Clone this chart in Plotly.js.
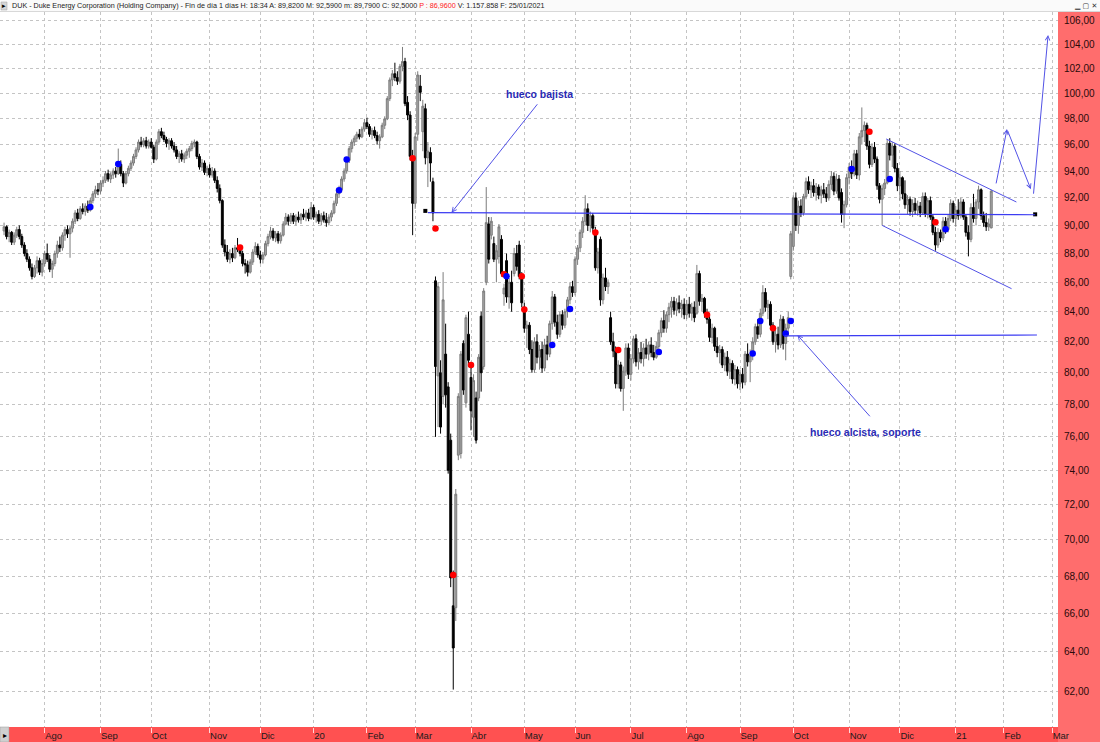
<!DOCTYPE html>
<html><head><meta charset="utf-8">
<script src="https://cdn.plot.ly/plotly-3.0.1.min.js"></script>
<style>html,body{margin:0;padding:0;background:#fff;} #chart{width:1100px;height:742px;}</style>
</head><body><div id="chart"></div>
<script>
// ===== DATA (DUK daily candles, Jul 2019 - 25 Jan 2021; x = trading-day index) =====
const open = [
89.6,89.9,89.2,89.5,88.8,89.3,89.7,89.2,88.6,88.0,87.6,87.0,86.4,87.0,87.5,86.7,
87.3,88.0,87.6,86.9,87.3,88.0,88.6,88.4,89.3,89.7,89.4,89.8,90.3,90.9,90.5,91.2,91.0,91.4,91.1,91.8,92.3,92.6,
92.5,93.1,93.3,93.8,93.4,93.7,94.0,93.8,94.5,93.8,93.1,93.8,94.2,94.6,95.1,95.6,96.2,96.0,96.3,95.9,
96.2,95.8,94.9,96.2,97.0,96.7,96.4,96.1,96.3,95.9,95.6,95.1,95.3,94.9,95.2,95.5,95.7,96.1,96.2,95.1,94.3,94.6,93.9,
94.2,93.7,94.0,93.3,92.7,91.8,88.6,88.1,87.6,88.0,87.7,88.4,88.3,88.0,87.3,87.2,86.7,87.4,88.1,88.5,
87.9,87.6,87.9,88.7,89.2,89.6,89.1,89.4,88.9,89.3,90.1,90.6,90.3,90.7,90.3,90.6,90.4,90.8,90.6,90.9,90.5,
91.3,90.6,90.8,90.3,90.7,90.4,90.2,90.6,90.9,91.6,92.3,92.6,93.4,94.0,94.8,95.7,96.2,96.5,96.8,96.6,97.2,
97.7,97.4,96.8,97.1,96.7,96.3,96.6,97.5,98.0,99.6,101.1,101.6,101.3,101.0,102.2,102.6,99.3,98.3,95.0,
91.6,96.8,100.6,97.0,98.8,95.0,95.4,93.2,86.1,79.8,80.0,78.5,81.2,79.1,75.8,66.4,66.3,74.9,75.0,81.9,78.1,82.5,
79.7,77.2,78.4,78.4,83.7,80.4,86.0,90.1,89.3,88.7,87.6,87.8,89.0,85.2,87.5,85.0,86.0,86.6,88.0,88.6,86.4,
84.3,82.9,83.1,81.5,80.2,82.0,81.0,81.5,80.3,81.8,81.2,83.2,85.0,83.3,82.5,83.8,83.1,84.0,84.8,85.7,
85.3,87.6,88.4,89.5,90.3,91.2,90.0,90.7,89.6,87.0,89.0,84.8,86.3,85.7,83.6,82.0,81.4,79.3,80.5,79.0,80.1,81.6,
79.9,80.9,82.2,80.7,81.3,80.9,81.6,81.2,81.8,81.3,81.0,81.7,82.6,83.4,82.9,83.8,84.3,84.7,84.1,84.6,84.2,84.5,
83.8,84.5,83.9,84.3,83.9,86.6,84.7,84.9,83.9,83.5,82.3,82.9,81.7,81.3,81.5,80.5,81.0,80.1,80.6,79.6,80.2,
79.3,79.9,79.4,81.2,80.7,81.1,82.0,83.0,82.5,83.9,85.3,84.3,84.5,83.1,82.0,82.5,81.8,83.5,81.9,82.9,86.4,
88.5,92.0,90.0,91.4,90.9,92.1,93.2,92.6,92.9,92.4,92.8,92.2,92.6,92.3,92.0,93.0,93.6,92.5,93.4,92.4,90.8,91.5,
93.5,94.3,93.8,95.3,93.7,96.6,97.1,97.5,95.9,94.5,95.8,94.9,92.9,91.9,92.7,93.1,96.1,95.2,95.9,94.2,
92.9,93.5,92.3,91.5,91.9,91.0,91.6,91.1,91.4,90.9,92.1,90.8,91.8,90.6,89.5,88.6,89.5,89.1,90.3,89.7,90.5,91.6,
90.5,91.1,90.7,91.7,90.6,89.5,89.0,91.3,90.5,91.7,92.6,90.7,90.2,89.9,89.82];
const high = [
90.2,90.0,89.7,89.6,89.5,89.9,90.0,89.4,88.8,88.3,87.8,87.3,87.2,87.8,87.7,87.6,
88.2,88.7,87.9,87.5,88.2,88.9,89.2,89.5,89.9,90.0,90.0,90.5,91.1,91.2,91.4,91.6,91.6,91.8,92.0,92.5,92.9,93.1,
93.3,93.6,94.0,94.1,93.9,94.2,94.3,95.7,94.8,94.0,94.0,94.4,94.8,95.3,95.8,96.4,96.6,96.5,96.6,96.4,
96.5,96.0,96.4,97.2,97.3,97.0,96.6,96.5,96.5,96.2,95.9,95.5,95.6,95.4,95.7,95.9,96.3,96.4,96.3,95.3,94.9,94.8,94.4,
94.5,94.3,94.2,93.6,93.0,91.9,89.0,88.6,88.3,88.4,88.6,89.1,88.6,88.2,87.6,87.5,87.6,88.3,88.8,88.7,
88.2,88.1,88.9,89.4,89.9,89.8,89.6,89.6,89.5,90.3,90.9,90.8,90.9,90.9,90.8,91.0,90.9,91.2,91.1,91.2,91.7,
91.5,91.0,91.1,90.9,91.0,90.9,90.8,91.1,91.8,92.5,92.9,93.6,94.2,95.0,95.9,96.4,96.7,97.0,97.2,97.4,98.0,
98.1,97.6,97.3,97.4,97.0,96.8,97.7,98.2,99.8,101.3,101.9,102.5,101.8,102.4,103.8,102.9,99.8,98.6,95.6,
96.9,101.8,101.5,99.5,99.2,96.2,95.8,93.5,86.4,86.0,80.8,86.7,83.2,79.4,76.2,68.3,72.9,78.7,81.4,82.1,83.8,84.0,
80.4,79.9,78.8,81.2,84.0,85.6,92.8,90.6,90.6,89.2,88.6,90.1,89.3,85.9,88.0,86.3,86.8,88.4,88.6,88.9,86.7,
84.6,83.4,83.3,82.1,82.3,82.5,81.8,82.0,82.2,82.4,83.4,85.4,85.2,83.8,84.0,84.1,84.2,85.0,86.0,86.1,
87.8,88.6,89.7,90.6,92.2,91.6,91.0,90.9,89.9,88.4,89.2,86.6,87.0,86.2,84.0,82.6,81.7,80.8,80.7,80.4,81.9,81.9,
81.2,82.4,82.5,81.6,82.0,81.9,82.2,82.0,82.3,81.8,82.0,82.8,83.6,84.1,84.0,84.6,85.0,85.0,84.9,85.1,84.8,84.9,
84.8,85.0,84.6,84.7,87.2,86.8,85.2,85.0,84.2,83.8,83.2,83.0,82.3,81.8,81.7,81.3,81.4,80.9,80.8,80.5,80.4,
80.2,80.3,81.4,81.9,81.5,82.3,83.2,83.5,84.2,85.8,85.6,84.8,84.7,83.3,82.8,83.0,83.8,83.7,83.2,84.0,89.6,
92.2,92.4,91.8,91.9,92.3,93.5,93.6,93.2,93.4,93.1,93.0,92.9,93.1,92.8,93.3,94.0,93.9,93.8,93.7,92.7,91.8,93.8,
94.6,94.8,95.6,95.6,96.9,98.9,97.8,97.7,96.3,96.1,96.2,95.1,93.1,93.0,93.4,96.4,96.5,96.2,96.1,94.6,
94.0,93.6,93.3,92.2,92.1,91.9,92.0,91.8,91.7,92.4,92.4,92.0,92.1,90.8,89.9,89.8,89.7,90.6,90.6,90.8,91.9,91.8,
91.4,91.9,92.0,91.9,90.8,90.0,91.6,92.3,91.9,92.9,92.7,91.0,90.9,90.5,92.59];
const low = [
89.3,89.0,88.8,88.6,88.6,89.1,89.0,88.4,87.8,87.4,86.8,86.2,86.3,86.6,86.5,86.4,
87.1,87.4,86.7,86.3,87.1,87.7,88.1,88.2,88.9,89.1,87.7,89.5,90.1,90.3,90.4,90.8,90.7,90.9,91.0,91.6,92.0,92.2,
92.3,92.8,93.1,93.2,93.1,93.4,93.5,93.7,93.6,92.8,93.0,93.6,94.0,94.4,94.9,95.4,95.8,95.8,95.7,95.7,
95.7,94.6,94.8,96.0,96.5,96.2,95.8,95.6,95.7,95.4,94.9,94.6,94.7,94.6,94.9,95.0,95.5,95.8,94.9,94.1,94.0,93.7,93.6,
93.5,93.5,93.1,92.4,91.6,88.4,87.8,87.4,87.3,87.4,87.6,88.1,87.8,87.1,86.6,86.4,86.6,87.2,87.9,87.7,
87.3,87.3,87.8,88.5,89.0,88.9,88.8,88.7,88.7,89.2,90.0,90.0,90.1,90.1,90.0,90.2,90.1,90.4,90.3,90.3,90.4,
90.4,90.2,90.1,90.0,90.2,89.9,90.0,90.3,90.8,91.4,92.0,92.4,93.2,93.8,94.6,95.4,95.9,96.2,96.4,96.5,97.0,
97.2,96.6,96.4,96.5,96.0,95.7,96.5,97.2,97.9,99.4,100.6,101.0,100.7,100.8,101.8,99.0,97.9,94.8,89.3,
91.2,96.3,99.4,95.5,94.5,92.8,93.2,90.3,76.0,76.6,76.2,78.0,77.8,73.8,67.4,62.1,65.6,74.6,74.7,78.6,77.8,80.4,
76.4,76.0,75.6,78.2,78.8,80.2,85.8,87.3,89.0,87.4,86.0,87.3,86.4,84.4,84.6,84.2,84.0,86.4,86.8,86.2,84.3,
82.6,81.6,81.2,80.0,80.0,80.6,80.2,80.0,80.1,80.8,81.0,82.8,83.0,82.2,82.3,82.8,82.9,83.6,84.5,85.0,
85.1,87.2,88.1,89.1,90.0,89.6,89.5,89.5,86.8,86.6,84.4,84.5,85.4,85.2,81.8,81.0,79.0,79.0,78.8,77.6,79.8,79.6,
79.5,80.6,80.4,80.2,80.6,80.4,80.9,80.8,81.0,80.8,80.9,81.5,82.3,82.6,82.6,83.3,83.6,83.8,83.7,83.9,83.6,83.5,
83.5,83.6,83.4,83.3,83.8,84.4,84.0,83.6,83.2,82.0,81.9,81.4,81.0,80.6,80.3,80.1,79.8,79.6,79.3,79.2,79.0,
78.9,79.0,79.2,80.4,79.4,80.8,81.8,82.2,82.3,83.7,84.0,83.5,82.8,81.8,81.3,81.5,81.6,81.5,80.8,82.4,86.2,
88.2,89.6,89.4,90.6,90.7,91.9,92.3,92.0,92.1,91.8,91.9,91.6,92.0,91.7,91.8,92.6,92.2,92.3,91.8,90.2,89.8,91.3,
93.0,93.4,93.6,93.4,93.3,96.0,96.2,95.6,94.2,94.3,94.6,92.6,91.6,90.0,92.2,93.0,94.8,94.3,93.9,92.5,
91.8,91.9,91.2,90.8,90.7,90.6,90.8,90.7,90.6,90.8,90.6,90.5,90.4,89.3,88.2,88.4,88.8,88.9,89.4,89.5,90.3,90.2,
89.9,90.4,90.5,90.4,89.2,87.8,88.8,90.2,90.0,91.2,90.4,89.9,89.6,89.6,89.79];
const close = [
89.9,89.2,89.5,88.8,89.3,89.7,89.2,88.6,88.0,87.6,87.0,86.4,87.0,87.5,86.7,87.3,
88.0,87.6,86.9,87.3,88.0,88.6,88.4,89.3,89.7,89.4,89.8,90.3,90.9,90.5,91.2,91.0,91.4,91.1,91.8,92.3,92.6,92.5,
93.1,93.3,93.8,93.4,93.7,94.0,93.8,94.5,93.8,93.1,93.8,94.2,94.6,95.1,95.6,96.2,96.0,96.3,95.9,96.2,
95.8,94.9,96.2,97.0,96.7,96.4,96.1,96.3,95.9,95.6,95.1,95.3,94.9,95.2,95.5,95.7,96.1,96.2,95.1,94.3,94.6,93.9,94.2,
93.7,94.0,93.3,92.7,91.8,88.6,88.1,87.6,88.0,87.7,88.4,88.3,88.0,87.3,87.2,86.7,87.4,88.1,88.5,87.9,
87.6,87.9,88.7,89.2,89.6,89.1,89.4,88.9,89.3,90.1,90.6,90.3,90.7,90.3,90.6,90.4,90.8,90.6,90.9,90.5,91.3,
90.6,90.8,90.3,90.7,90.4,90.2,90.6,90.9,91.6,92.3,92.6,93.4,94.0,94.8,95.7,96.2,96.5,96.8,96.6,97.2,97.7,
97.4,96.8,97.1,96.7,96.3,96.6,97.5,98.0,99.6,101.1,101.6,101.3,101.0,102.2,102.6,99.2,98.3,95.1,91.6,
96.6,101.5,100.1,99.0,95.0,95.5,94.6,90.9,80.4,85.7,76.6,84.8,78.6,74.0,67.9,64.2,72.6,78.5,81.2,78.9,83.6,80.8,
77.6,79.5,75.8,81.0,80.0,85.4,90.2,87.6,90.3,87.6,88.2,89.9,86.6,85.6,85.0,86.0,84.6,88.0,87.1,86.4,84.6,
82.9,83.1,81.5,80.2,82.0,81.0,81.5,80.3,81.8,81.2,83.2,85.0,83.3,82.5,83.8,83.1,84.0,84.8,85.7,85.3,
87.6,88.4,89.5,90.3,91.2,90.0,90.7,89.8,87.0,88.1,84.8,86.3,85.7,86.0,82.0,81.4,79.3,80.5,79.0,80.1,81.6,79.9,
80.9,82.2,80.7,81.3,80.9,81.6,81.2,81.8,81.3,81.0,81.7,82.6,83.4,82.9,83.8,84.3,84.7,84.1,84.6,84.2,84.5,83.8,
84.5,83.9,84.3,83.6,86.6,84.7,84.9,83.9,83.5,82.3,82.9,81.7,81.3,81.5,80.5,81.0,80.1,80.6,79.6,80.2,79.3,
79.9,79.4,81.2,80.7,81.1,82.0,83.0,82.5,83.9,85.3,84.3,84.5,83.1,82.0,82.5,81.8,83.5,81.9,82.9,83.6,89.4,
92.0,90.0,91.4,90.9,92.1,93.2,92.6,92.9,92.4,92.8,92.2,92.6,92.3,92.0,93.0,93.6,92.5,93.4,92.0,90.8,91.5,93.5,
94.3,93.8,95.3,93.7,96.6,97.1,97.5,95.9,94.5,95.8,94.9,92.9,91.9,92.7,93.1,96.1,95.2,95.9,94.2,92.9,
93.5,92.3,91.5,91.9,91.0,91.6,91.1,91.4,90.9,92.1,90.8,91.8,90.6,89.5,88.6,89.5,89.1,90.3,89.7,90.5,91.6,90.5,
91.1,90.7,91.7,90.6,89.5,89.0,91.3,90.5,91.7,92.6,90.7,90.2,89.9,90.1,92.5];

// month boundaries (trading-day index of the first session of each month) and labels
const monthStartIdx = [16,38,58,81,101,122,143,162,184,205,225,247,269,290,311,333,353,375,394,413];
const monthLabels   = ['Ago','Sep','Oct','Nov','Dic','20','Feb','Mar','Abr','May','Jun','Jul','Ago','Sep','Oct','Nov','Dic','21','Feb','Mar'];

// price axis ticks
const priceTicks = [62,64,66,68,70,72,74,76,78,80,82,84,86,88,90,92,94,96,98,100,102,104,106];
const priceTickText = ['62,00','64,00','66,00','68,00','70,00','72,00','74,00','76,00','78,00','80,00','82,00','84,00','86,00','88,00','90,00','92,00','94,00','96,00','98,00','100,00','102,00','104,00','106,00'];

// signal dots
const blueIdx = [34,45,132,135,198,216,223,258,295,298,308,310,334,349,371];
const blueVal = [91.34,94.53,92.57,94.86,86.42,81.8,84.19,81.33,81.24,83.38,82.55,83.38,94.15,93.4,89.73];
const redIdx  = [93,161,170,177,184,197,204,205,233,242,277,303,341,367];
const redVal  = [88.42,94.96,89.77,68.06,80.49,86.56,86.42,84.14,89.49,81.46,83.8,82.9,96.99,90.23];

// gap line end marks
const gapMarkIdx = [166,406.3];
const gapMarkVal = [91.05,90.8];

// ===== LAYOUT =====
const W=1100, H=742, ML=0, MR=42, MT=12, MB=15;
const PW=W-ML-MR, PH=H-MT-MB;
const pxX = p => (p-ML)/PW;
const pxY = p => (H-MB-p)/PH;
const L10 = v => Math.log10(v);

const idx = close.map((_,k)=>k);

const traces = [
  {type:'candlestick', x:idx, open:open, high:high, low:low, close:close,
   increasing:{line:{color:'#7c7c7c', width:1}, fillcolor:'#a6a6a6'},
   decreasing:{line:{color:'#000000', width:1}, fillcolor:'#000000'},
   whiskerwidth:0, hoverinfo:'skip', showlegend:false},
  {type:'scatter', mode:'markers', x:redIdx, y:redVal, marker:{color:'#ff0000', size:6.5}, hoverinfo:'skip', showlegend:false},
  {type:'scatter', mode:'markers', x:blueIdx, y:blueVal, marker:{color:'#0000ff', size:6.5}, hoverinfo:'skip', showlegend:false},
  {type:'scatter', mode:'markers', x:gapMarkIdx, y:gapMarkVal, marker:{color:'#000', size:4, symbol:'square'}, hoverinfo:'skip', showlegend:false}
];

const lineBlue = {color:'#3c3cf2', width:1.2};
const lineArrow = {color:'#5252e6', width:1};

const shapes = [
  {type:'rect', xref:'paper', yref:'paper', x0:pxX(0), x1:pxX(W), y0:pxY(MT), y1:pxY(0), fillcolor:'#fafafa', line:{width:0}, layer:'below'},
  {type:'line', xref:'paper', yref:'paper', x0:pxX(0), x1:pxX(W), y0:pxY(MT-0.5), y1:pxY(MT-0.5), line:{color:'#d8d8d8', width:1}},
  {type:'rect', xref:'paper', yref:'paper', x0:pxX(1), x1:pxX(7), y0:pxY(10), y1:pxY(2), fillcolor:'#d6d6d6', line:{color:'#a0a0a0', width:0.5}},
  {type:'rect', xref:'paper', yref:'paper', x0:pxX(9), x1:pxX(PW), y0:pxY(H), y1:pxY(H-MB), fillcolor:'#ff5151', line:{width:0}, layer:'below'},
  {type:'rect', xref:'paper', yref:'paper', x0:pxX(0), x1:pxX(9), y0:pxY(H), y1:pxY(H-MB), fillcolor:'#cfcfcf', line:{color:'#9a9a9a', width:0.5}, layer:'below'},
  {type:'line', xref:'x', yref:'y', x0:167, y0:90.92, x1:406.3, y1:90.77, line:lineBlue},
  {type:'line', xref:'x', yref:'y', x0:307.5, y0:82.39, x1:407, y1:82.45, line:lineBlue},
  {type:'line', xref:'x', yref:'y', x0:347.6, y0:96.44, x1:398.9, y1:91.7, line:lineArrow},
  {type:'line', xref:'x', yref:'y', x0:346.0, y0:90.0, x1:397.0, y1:85.56, line:lineArrow}
];

function arrow(tx,ty,hx,hy){
  return {xref:'x', yref:'y', axref:'x', ayref:'y', x:hx, y:L10(hy), ax:tx, ay:L10(ty),
          text:'', showarrow:true, arrowhead:5, arrowsize:0.9, arrowwidth:1, arrowcolor:'#5252e6', standoff:0, startstandoff:0};
}

const hdr = 'DUK - Duke Energy Corporation (Holding Company) - Fin de día 1 días H: 18:34 A: 89,8200 M: 92,5900 m: 89,7900 C: 92,5000 <span style="color:#ff2020">P : 86,9600</span> V: 1.157.858 F: 25/01/2021';

const annotations = [
  arrow(210.6,99.27,176.3,90.92),
  arrow(341.7,77.17,312.6,82.45),
  arrow(390.8,92.96,395.2,97.2),
  arrow(395.2,97.2,404.6,92.64),
  arrow(405.6,92.2,411.4,104.8),
  {xref:'x', yref:'y', x:211.0, y:L10(99.97), text:'<b>hueco bajista</b>', showarrow:false,
   font:{family:'Liberation Sans, Arial, sans-serif', size:10.5, color:'#2a2ab4'}},
  {xref:'x', yref:'y', x:339.4, y:L10(76.3), text:'<b>hueco alcista, soporte</b>', showarrow:false,
   font:{family:'Liberation Sans, Arial, sans-serif', size:10.5, color:'#2a2ab4'}},
  {xref:'paper', yref:'paper', x:pxX(10), y:pxY(6), xanchor:'left', yanchor:'middle', text:hdr, showarrow:false,
   font:{family:'Liberation Sans, Arial, sans-serif', size:7.2, color:'#222'}},
  {xref:'paper', yref:'paper', x:pxX(4), y:pxY(6), xanchor:'center', yanchor:'middle', text:'▸', showarrow:false,
   font:{family:'DejaVu Sans', size:7, color:'#000'}},
  {xref:'paper', yref:'paper', x:pxX(1085), y:pxY(6), xanchor:'center', yanchor:'middle', text:'▁ ▢ ✕', showarrow:false,
   font:{family:'DejaVu Sans', size:7, color:'#333'}},
  {xref:'paper', yref:'paper', x:pxX(4.5), y:pxY(H-7), xanchor:'center', yanchor:'middle', text:'▸', showarrow:false,
   font:{family:'DejaVu Sans', size:8, color:'#000'}}
];

const layout = {
  width:W, height:H,
  margin:{l:ML, r:MR, t:MT, b:MB, pad:0},
  paper_bgcolor:'#ff6d6d',
  plot_bgcolor:'#ffffff',
  showlegend:false,
  hovermode:false,
  xaxis:{type:'linear', range:[-1.6,415.3], rangeslider:{visible:false},
         tickmode:'array', tickvals:monthStartIdx, ticktext:monthLabels,
         ticklabelposition:'outside right',
         ticks:'outside', ticklen:5, tickcolor:'#ffd8d8', tickwidth:1,
         tickfont:{family:'Liberation Sans, Arial, sans-serif', size:9.5, color:'#1a1a1a'},
         showgrid:true, gridcolor:'#c4c4c4', griddash:'dot', gridwidth:1,
         zeroline:false, showline:false, fixedrange:true},
  yaxis:{type:'log', side:'right', range:[L10(60.27), L10(106.74)],
         tickmode:'array', tickvals:priceTicks, ticktext:priceTickText,
         ticks:'outside', ticklen:3, tickcolor:'#ff6d6d',
         tickfont:{family:'Liberation Sans, Arial, sans-serif', size:10, color:'#2a0a0a'},
         showgrid:true, gridcolor:'#c4c4c4', griddash:'dot', gridwidth:1,
         zeroline:false, showline:false, fixedrange:true},
  boxgap:0.25,
  boxgroupgap:0,
  shapes:shapes,
  annotations:annotations
};

Plotly.newPlot('chart', traces, layout, {staticPlot:true, displayModeBar:false});
</script>
</body></html>
